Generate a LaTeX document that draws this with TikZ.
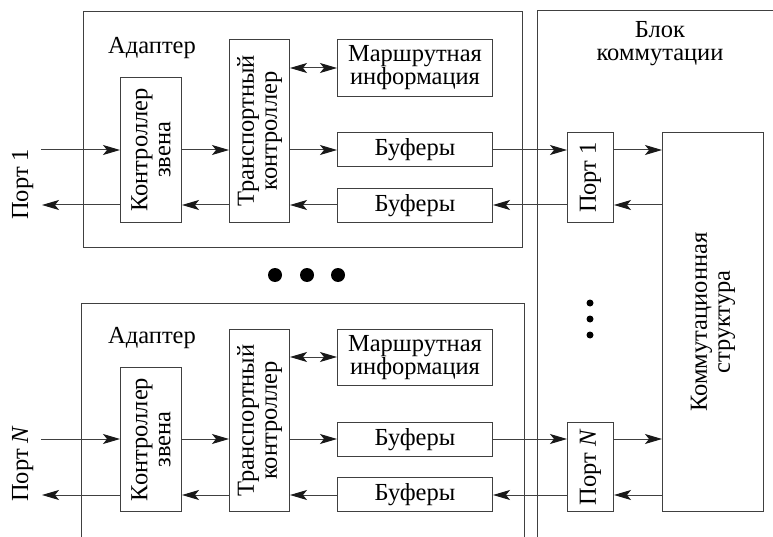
\documentclass[tikz,border=0pt]{standalone}
\usepackage{fontspec}
\setmainfont{Liberation Serif}
\usetikzlibrary{arrows.meta}
\tikzset{
  txt/.style={font=\fontsize{24.5}{23}\selectfont, inner sep=0pt, align=center, text=black},
  blk/.style={draw=black!75, line width=1pt, inner sep=0pt, anchor=north west},
  ln/.style={draw=black!75, line width=1pt},
  arr/.style={ln, -{Stealth[length=17pt,width=10pt,inset=4pt,color=black!90]}},
  darr/.style={ln, {Stealth[length=17pt,width=10pt,inset=4pt,color=black!90]}-{Stealth[length=17pt,width=10pt,inset=4pt,color=black!90]}},
  bigdot/.style={fill=black, draw=none, circle, minimum size=14pt, inner sep=0pt},
  smalldot/.style={fill=black, draw=none, circle, minimum size=7pt, inner sep=0pt}
}
\begin{document}
\begin{tikzpicture}[x=1pt,y=-1pt]
\useasboundingbox (0,0) rectangle (773,537);

% frames
\node[blk, minimum width=439pt, minimum height=236pt] (ad1) at (83,11) {};
\draw[ln] (81,537) -- (81,303) -- (524,303) -- (524,537);
\draw[ln] (537,537) -- (537,11) -- (773,11);

% top adapter
\node[txt] (adl1) at (152,48) {Адаптер};
\node[blk, minimum width=61pt, minimum height=145pt] (ctl1) at (120,77) {};
\node[txt, rotate=90] at (ctl1.center) {Контроллер\\звена};
\node[blk, minimum width=60pt, minimum height=183pt] (trn1) at (229,39) {};
\node[txt, rotate=90] at (trn1.center) {Транспортный\\контроллер};
\node[blk, minimum width=155pt, minimum height=57pt] (rt1) at (337,39) {};
\node[txt] at (rt1.center) {Маршрутная\\информация};
\node[blk, minimum width=155pt, minimum height=34pt] (bfa1) at (337,132) {};
\node[txt] at (bfa1.center) {Буферы};
\node[blk, minimum width=155pt, minimum height=34pt] (bfb1) at (337,188) {};
\node[txt] at (bfb1.center) {Буферы};

% bottom adapter
\node[txt] (adl2) at (152,338) {Адаптер};
\node[blk, minimum width=61pt, minimum height=144pt] (ctl2) at (120,367) {};
\node[txt, rotate=90] at (ctl2.center) {Контроллер\\звена};
\node[blk, minimum width=60pt, minimum height=182pt] (trn2) at (229,329) {};
\node[txt, rotate=90] at (trn2.center) {Транспортный\\контроллер};
\node[blk, minimum width=155pt, minimum height=56pt] (rt2) at (337,329) {};
\node[txt] at (rt2.center) {Маршрутная\\информация};
\node[blk, minimum width=155pt, minimum height=34pt] (bfa2) at (337,422) {};
\node[txt] at (bfa2.center) {Буферы};
\node[blk, minimum width=155pt, minimum height=34pt] (bfb2) at (337,477) {};
\node[txt] at (bfb2.center) {Буферы};

% switch block
\node[txt] (sw) at (660,44) {Блок\\коммутации};
\node[blk, minimum width=46pt, minimum height=90pt] (p1) at (567,132) {};
\node[txt, rotate=90] at (p1.center) {Порт 1};
\node[blk, minimum width=46pt, minimum height=89pt] (pN) at (567,422) {};
\node[txt, rotate=90] at (pN.center) {Порт \textit{N}};
\node[blk, minimum width=101pt, minimum height=379pt] (fab) at (662,132) {};
\node[txt, rotate=90] at (fab.center) {Коммутационная\\структура};

% external port labels
\node[txt, rotate=90, anchor=base west] (lp1) at (28,220) {Порт 1};
\node[txt, rotate=90, anchor=base west] (lpN) at (28,502) {Порт \textit{N}};

% reference coordinates
\coordinate (in1) at (41,150);
\coordinate (out1) at (42,205);
\coordinate (rr1) at (0,68);
\coordinate (in2) at (41,439);
\coordinate (out2) at (42,495);
\coordinate (rr2) at (0,357);

% top connectors
\draw[arr] (in1) -- (ctl1.west |- in1);
\draw[arr] (ctl1.west |- out1) -- (out1);
\draw[arr] (ctl1.east |- in1) -- (trn1.west |- in1);
\draw[arr] (trn1.west |- out1) -- (ctl1.east |- out1);
\draw[arr] (trn1.east |- in1) -- (bfa1.west |- in1);
\draw[arr] (bfb1.west |- out1) -- (trn1.east |- out1);
\draw[darr] (trn1.east |- rr1) -- (rt1.west |- rr1);
\draw[arr] (bfa1.east |- in1) -- (p1.west |- in1);
\draw[arr] (p1.west |- out1) -- (bfb1.east |- out1);
\draw[arr] (p1.east |- in1) -- (fab.west |- in1);
\draw[arr] (fab.west |- out1) -- (p1.east |- out1);

% bottom connectors
\draw[arr] (in2) -- (ctl2.west |- in2);
\draw[arr] (ctl2.west |- out2) -- (out2);
\draw[arr] (ctl2.east |- in2) -- (trn2.west |- in2);
\draw[arr] (trn2.west |- out2) -- (ctl2.east |- out2);
\draw[arr] (trn2.east |- in2) -- (bfa2.west |- in2);
\draw[arr] (bfb2.west |- out2) -- (trn2.east |- out2);
\draw[darr] (trn2.east |- rr2) -- (rt2.west |- rr2);
\draw[arr] (bfa2.east |- in2) -- (pN.west |- in2);
\draw[arr] (pN.west |- out2) -- (bfb2.east |- out2);
\draw[arr] (pN.east |- in2) -- (fab.west |- in2);
\draw[arr] (fab.west |- out2) -- (pN.east |- out2);

% ellipsis dots
\node[bigdot] (d1) at (275,275) {};
\node[bigdot] (d2) at (307,275) {};
\node[bigdot] (d3) at (338,275) {};
\node[smalldot] (v1) at (590,303) {};
\node[smalldot] (v2) at (590,319) {};
\node[smalldot] (v3) at (590,335) {};
\end{tikzpicture}
\end{document}
